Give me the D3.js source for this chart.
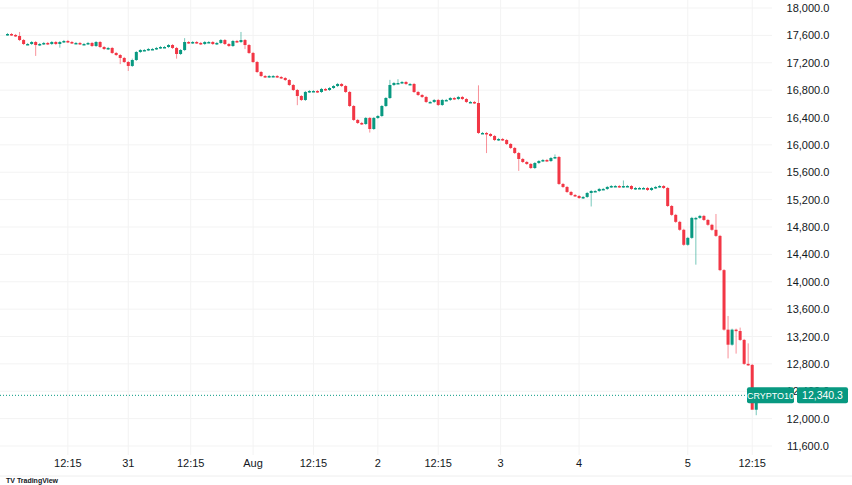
<!DOCTYPE html><html><head><meta charset="utf-8"><script src="https://cdn.jsdelivr.net/npm/d3@7"></script>
<style>body{margin:0;background:#fff}svg{font-family:"Liberation Sans",Arial,sans-serif}</style></head><body><svg id="c" width="852" height="485"></svg><script>
const closes=[17620,17606,17591,17532,17474,17474,17503,17459,17474,17489,17474,17503,17474,17503,17518,17503,17489,17489,17474,17474,17489,17445,17503,17430,17401,17416,17343,17313,17270,17211,17153,17240,17357,17386,17386,17401,17401,17416,17430,17430,17459,17416,17328,17386,17503,17489,17503,17489,17474,17503,17503,17474,17489,17532,17474,17445,17518,17503,17532,17459,17343,17211,17065,17006,16992,17006,17006,16992,16977,16948,16875,16802,16714,16656,16773,16787,16787,16773,16817,16802,16831,16860,16890,16860,16773,16568,16364,16320,16305,16393,16232,16393,16422,16568,16685,16875,16904,16904,16919,16890,16890,16773,16729,16700,16627,16627,16656,16583,16656,16656,16685,16670,16700,16670,16627,16627,16612,16174,16174,16159,16130,16071,16086,16071,16013,15955,15881,15794,15750,15721,15662,15735,15764,15779,15764,15808,15823,15429,15385,15312,15268,15253,15224,15239,15297,15326,15326,15356,15356,15385,15399,15399,15385,15399,15399,15356,15370,15370,15370,15341,15370,15385,15399,15370,15107,14977,14875,14759,14540,14641,14933,14933,14962,14903,14832,14759,14670,14170,13300,13080,13300,13280,13150,12800,12785,12130,12340];
const firstOpen=17610;
const wickHighs={3:17650,31:17260,44:17560,58:17650,95:16950,97:16960,117:16870,136:15860,153:15480,176:14990,179:13500,182:13330,184:13100};
const wickLows={7:17300,13:17420,28:17180,30:17080,42:17260,59:17400,72:16580,90:16180,119:15880,127:15620,145:15100,171:14250,179:12880,181:12950,185:12620,186:12050};
const yTicks=[11600,12000,12400,12800,13200,13600,14000,14400,14800,15200,15600,16000,16400,16800,17200,17600,18000];
const xLabels=[[15,"12:15"],[30,"31"],[45.5,"12:15"],[61,"Aug"],[76,"12:15"],[92,"2"],[107,"12:15"],[122.5,"3"],[142,"4"],[169,"5"],[185,"12:15"]];
const lastPrice=12340.3;
const UP="#089981",DN="#F23645";
const svg=d3.select("#c");
const y=d3.scaleLinear().domain([11600,18000]).range([446,8]);
const x=d3.scaleBand().domain(d3.range(closes.length)).range([6,6+4.02*closes.length]).paddingInner(0.25);
const cx=i=>x(Math.floor(i))+(i%1)*x.step()+x.bandwidth()/2;
const g=svg.append("g");
g.selectAll(".hg").data(yTicks).join("line").attr("x1",0).attr("x2",772).attr("y1",d=>y(d)).attr("y2",d=>y(d)).attr("stroke","#f3f3f3");
g.selectAll(".vg").data(xLabels).join("line").attr("x1",d=>cx(d[0])).attr("x2",d=>cx(d[0])).attr("y1",0).attr("y2",455).attr("stroke","#f3f3f3");
const data=closes.map((c,i)=>{const o=i?closes[i-1]:firstOpen;return{i,o,c,h:wickHighs[i]??Math.max(o,c)+15,l:wickLows[i]??Math.min(o,c)-15};});
const cg=svg.append("g");
cg.selectAll("line").data(data).join("line").attr("x1",d=>cx(d.i)).attr("x2",d=>cx(d.i)).attr("y1",d=>y(d.h)).attr("y2",d=>y(d.l)).attr("stroke",d=>d.c>=d.o?UP:DN).attr("stroke-opacity",0.55);
cg.selectAll("rect").data(data).join("rect").attr("x",d=>x(d.i)).attr("width",x.bandwidth()).attr("y",d=>y(Math.max(d.o,d.c))).attr("height",d=>Math.max(1.5,y(Math.min(d.o,d.c))-y(Math.max(d.o,d.c)))).attr("fill",d=>d.c>=d.o?UP:DN);
svg.selectAll(".yt").data(yTicks).join("text").attr("x",808).attr("y",d=>y(d)+4).attr("text-anchor","middle").attr("font-size",11).attr("fill","#131722").text(d=>d3.format(",.1f")(d));
svg.selectAll(".xt").data(xLabels).join("text").attr("x",d=>cx(d[0])).attr("y",467).attr("text-anchor","middle").attr("font-size",11).attr("fill","#131722").text(d=>d[1]);
svg.append("line").attr("x1",0).attr("x2",852).attr("y1",476).attr("y2",476).attr("stroke","#eee");
const ly=y(lastPrice);
svg.append("line").attr("x1",0).attr("x2",747).attr("y1",ly).attr("y2",ly).attr("stroke",UP).attr("stroke-dasharray","1,2");
svg.append("rect").attr("x",747).attr("y",ly-8).attr("width",47).attr("height",16).attr("rx",2).attr("fill",UP);
svg.append("text").attr("x",770.5).attr("y",ly+3.5).attr("text-anchor","middle").attr("font-size",9).attr("fill","#fff").text("CRYPTO10");
svg.append("rect").attr("x",797).attr("y",ly-8).attr("width",51).attr("height",16).attr("rx",2).attr("fill",UP);
svg.append("text").attr("x",822.5).attr("y",ly+4).attr("text-anchor","middle").attr("font-size",10.5).attr("fill","#fff").text(d3.format(",.1f")(lastPrice));
svg.append("text").attr("x",6).attr("y",483).attr("font-size",7).attr("font-weight","bold").attr("fill","#131722").text("TV TradingView");
</script></body></html>
